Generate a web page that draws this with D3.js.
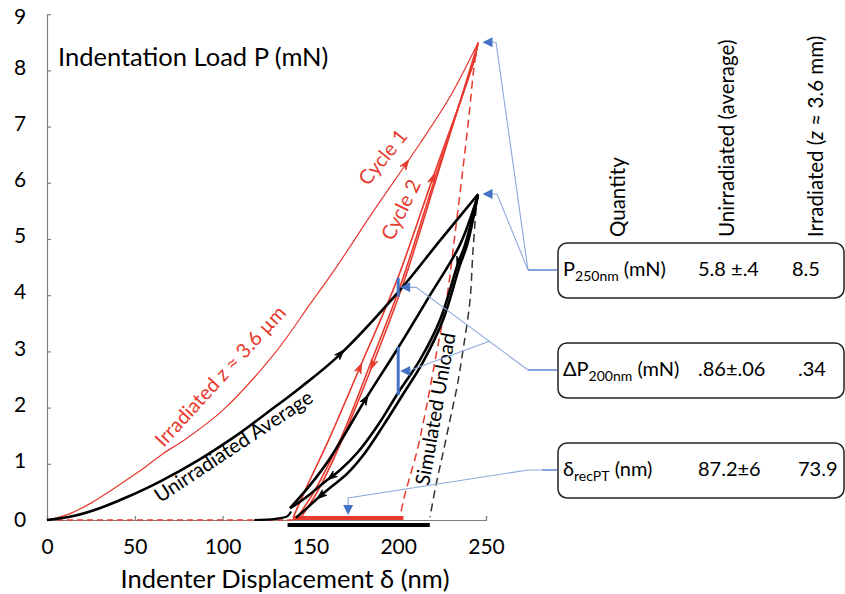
<!DOCTYPE html>
<meta charset="utf-8">
<head>
<title>Indentation load-displacement</title>
<script src="https://d3js.org/d3.v7.min.js"></script>
<style>
  body { margin: 0; background: #fff; font-family: Lato, 'Open Sans', sans-serif; }
  svg { display: block; }
  .axis path, .axis line { stroke: #808080; stroke-width: 1.2; }
  .axis text { font-size: 21px; fill: #000; font-family: Lato, sans-serif; }
  text.title { font-size: 25.5px; fill: #000; }
  text.lbl { font-size: 20px; }
  text.cell { font-size: 20px; fill: #000; }
  text.head { font-size: 20.5px; fill: #000; }
</style>
</head>
<body>
<svg width="845" height="594"></svg>
<script>
// ---- data (delta nm, P mN) ----
const irradLoad = [[0,0],[12,0.1],[25,0.3],[40,0.6],[55,0.92],[66,1.18],[78,1.42],[100,1.95],[130,2.98],[150,3.85],[165,4.51],[186,5.5],[212.4,6.7],[229.5,7.53],[245.6,8.5]];
const irradReload = [[140.3,0.05],[147.9,0.59],[161.2,1.48],[179.2,2.79],[199.1,4.25],[220,6.11],[242.8,8.13],[245.3,8.45]];
const irradUnload1 = [[245.4,8.48],[223.8,6.29],[202.9,4.21],[185.8,2.79],[168.8,1.48],[155.5,0.59],[145,0.06]];
const irradUnload2 = [[244.6,8.3],[221.9,6.17],[201,4.15],[184.3,2.79],[166.9,1.42],[152.6,0.53],[142.2,0.03]];
const irradSimUnload = [[245.6,8.5],[243.7,8.19],[240,7.1],[236.1,6.05],[232,5.0],[227.7,3.95],[222.1,3.02],[216,2.0],[210.5,1.2],[206,0.7],[203,0.35],[201,0.05]];
const irradBase = [[0,0],[141,0]];

const unirrLoad = [[0,0],[15,0.07],[30,0.21],[45,0.4],[64,0.68],[87,1.08],[110,1.55],[125,1.9],[144,2.35],[166,2.92],[201,4.09],[224,4.98],[245.6,5.8]];
const unirrTail = [[118,0],[130,0.02],[137,0.07],[139,0.15]];
const unirrUnload1 = [[245.4,5.78],[238,4.89],[234.1,4.57],[223.8,3.56],[212.4,2.85],[199.9,2.26],[188.5,1.69],[177.1,1.21],[166.9,0.89],[158.3,0.68],[149.8,0.46],[142.9,0.3],[138.4,0.21]];
const unirrReload = [[138.4,0.21],[149.8,0.62],[161.2,1.1],[182.2,2.19],[199.9,3.06],[218.1,4.0],[235.2,4.9],[245.4,5.78]];
const unirrUnload2 = [[245.4,5.78],[239.2,4.89],[235.2,4.54],[225.5,3.56],[214.1,2.81],[202.2,2.21],[191.3,1.67],[180.5,1.17],[170.8,0.82],[162.3,0.6],[154.3,0.39],[146.9,0.18],[141.8,0.04]];
const unirrSimUnload = [[245.4,5.78],[244.9,5.69],[242.6,4.8],[240.9,3.91],[236.9,3.02],[233.5,2.37],[229.5,1.78],[225.5,1.19],[221.5,0.62],[218.1,0.05]];

// recovered-displacement bars [from, to]
const recIrrad = [140, 203];
const recUnirr = [137, 218];

// peaks and dP at 200 nm
const peakIrrad = [248, 8.5];
const peakUnirr = [248, 5.8];
const dPIrrad = [200, 3.97, 4.31];
const dPUnirr = [200, 2.22, 3.08];

const xTicks = [0, 50, 100, 150, 200, 250];
const yTicks = [0, 1, 2, 3, 4, 5, 6, 7, 8, 9];

const tableHeads = ['Quantity', 'Unirradiated (average)', 'Irradiated'];
const tableRows = [
  {sym: 'P', sub: '250nm', unit: ' (mN)', unirr: '5.8 \u00b1.4', irr: '8.5'},
  {sym: '\u0394P', sub: '200nm', unit: ' (mN)', unirr: '.86\u00b1.06', irr: '.34'},
  {sym: '\u03b4', sub: 'recPT', unit: ' (nm)', unirr: '87.2\u00b16', irr: '73.9'}
];

const red = '#e8392e', blue = '#4472c4', blueLight = '#8ea9db';

const svg = d3.select('svg');
const x = d3.scaleLinear().domain([0, 250]).range([47, 486]);
const y = d3.scaleLinear().domain([0, 9]).range([520, 14.2]);

// axes
svg.append('g').attr('class', 'axis')
  .attr('transform', `translate(0,${y(0)})`)
  .call(d3.axisBottom(x).tickValues(xTicks).tickSizeInner(-4).tickSizeOuter(-4).tickPadding(19));
svg.append('g').attr('class', 'axis')
  .attr('transform', `translate(${x(0)},0)`)
  .call(d3.axisLeft(y).tickValues(yTicks).tickSizeInner(-4).tickSizeOuter(0).tickPadding(21))
  .selectAll('text').attr('text-anchor', 'middle').attr('x', -27)
  .attr('dy', (d) => d === 0 ? '0.32em' : d === 9 ? '0.42em' : '0.18em');

svg.append('text').attr('class', 'title').attr('x', 58).attr('y', 66).text('Indentation Load P (mN)');
svg.append('text').attr('class', 'title').attr('x', 285).attr('y', 588).attr('text-anchor', 'middle')
  .text('Indenter Displacement \u03b4 (nm)');

const smooth = d3.line().x((d) => x(d[0])).y((d) => y(d[1])).curve(d3.curveCatmullRom);
const line = d3.line().x((d) => x(d[0])).y((d) => y(d[1]));

function draw(data, color, width, dash, gen) {
  svg.append('path').datum(data)
    .attr('d', gen || smooth)
    .attr('fill', 'none')
    .attr('stroke', color)
    .attr('stroke-width', width)
    .attr('stroke-dasharray', dash || null)
    .attr('stroke-linejoin', 'round');
}

// baseline & bars
draw(irradBase, red, 1.5, '6,4', line);
svg.append('line').attr('x1', x(recUnirr[0])).attr('x2', x(recUnirr[1]))
  .attr('y1', y(0) + 5).attr('y2', y(0) + 5).attr('stroke', '#000').attr('stroke-width', 4);
svg.append('line').attr('x1', x(recIrrad[0])).attr('x2', x(recIrrad[1]))
  .attr('y1', y(0) - 2).attr('y2', y(0) - 2).attr('stroke', red).attr('stroke-width', 4);

// simulated unloads
draw(irradSimUnload, red, 1.5, '8,5');
draw(unirrSimUnload, '#333', 1.5, '8,5');

// irradiated
draw(irradLoad, red, 1.2);
draw(irradUnload1, red, 1.6);
draw(irradUnload2, red, 1.6);
draw(irradReload, red, 1.6);

// unirradiated
draw(unirrLoad, '#000', 2.6);
draw(unirrTail, '#000', 2.2);
draw(unirrUnload1, '#000', 2.6);
draw(unirrReload, '#000', 2.6);
draw(unirrUnload2, '#000', 2.6);

// arrowheads along curves
function arrowAt(data, d, color) {
  for (let i = 0; i < data.length - 1; i++) {
    const a = data[i], b = data[i + 1];
    const lo = Math.min(a[0], b[0]), hi = Math.max(a[0], b[0]);
    if (d >= lo && d <= hi) {
      const t = (d - a[0]) / (b[0] - a[0]);
      const px = x(d), py = y(a[1] + t * (b[1] - a[1]));
      const ang = Math.atan2(y(b[1]) - y(a[1]), x(b[0]) - x(a[0])) * 180 / Math.PI;
      svg.append('path').attr('d', 'M3,0 L-7,-3.5 L-4,0 L-7,3.5 Z')
        .attr('fill', color).attr('stroke', color).attr('stroke-width', 0.8)
        .attr('transform', `translate(${px},${py}) rotate(${ang})`);
      return;
    }
  }
}
arrowAt(unirrLoad, 168, '#000');
arrowAt(unirrReload, 182, '#000');
arrowAt(unirrUnload1, 234, '#000');
arrowAt(unirrUnload1, 161, '#000');
arrowAt(unirrUnload2, 155, '#000');
arrowAt(irradLoad, 205, red);
arrowAt(irradReload, 178.5, red);
arrowAt(irradReload, 220, red);
arrowAt(irradUnload1, 185, red);

// curve labels
const labels = [
  {t: ['Irradiated ', {i: 'z'}, ' \u2248 3.6 \u00b5m'], d: 66.5, p: 1.28, a: -47.5, c: red},
  {t: ['Unirradiated Average'], d: 64.5, p: 0.3, a: -33.5, c: '#000'},
  {t: ['Cycle 1'], d: 182.8, p: 5.93, a: -51, c: red},
  {t: ['Cycle 2'], d: 197, p: 4.95, a: -64, c: red},
  {t: ['Simulated Unload'], d: 217.5, p: 0.6, a: -80, c: '#000'}
];
labels.forEach((l) => {
  const tx = svg.append('text').attr('class', 'lbl').attr('fill', l.c)
    .attr('transform', `translate(${x(l.d)},${y(l.p)}) rotate(${l.a})`);
  l.t.forEach((s) => {
    if (typeof s === 'string') tx.append('tspan').text(s);
    else tx.append('tspan').attr('font-style', 'italic').text(s.i);
  });
});

// table boxes
const boxX = 558, boxW = 286, boxH = 55, boxTop = [243, 343, 443];
tableRows.forEach((r, i) => {
  const top = boxTop[i];
  svg.append('rect').attr('x', boxX).attr('y', top).attr('width', boxW).attr('height', boxH)
    .attr('rx', 9).attr('fill', 'none').attr('stroke', '#222').attr('stroke-width', 1.5);
  const t = svg.append('text').attr('class', 'cell').attr('x', boxX + 5).attr('y', top + 33);
  t.append('tspan').text(r.sym);
  t.append('tspan').attr('font-size', 14).attr('dy', 5).text(r.sub);
  t.append('tspan').attr('dy', -5).text(r.unit);
  svg.append('text').attr('class', 'cell').attr('x', 698).attr('y', top + 33).text(r.unirr);
  svg.append('text').attr('class', 'cell').attr('x', i === 0 ? 792 : 798).attr('y', top + 33).text(r.irr);
});

// header (rotated)
const heads = [
  {x: 625, parts: [tableHeads[0]]},
  {x: 734, parts: [tableHeads[1]]},
  {x: 823, parts: [tableHeads[2] + ' (', {i: 'z'}, ' \u2248 3.6 mm)']}
];
heads.forEach((h) => {
  const t = svg.append('text').attr('class', 'head')
    .attr('transform', `translate(${h.x},237) rotate(-90)`);
  h.parts.forEach((s) => {
    if (typeof s === 'string') t.append('tspan').text(s);
    else t.append('tspan').attr('font-style', 'italic').text(s.i);
  });
});

// blue annotation markers
function triLeft(px, py) {
  svg.append('path').attr('d', 'M0,0 L10,-5 L10,5 Z').attr('fill', blue)
    .attr('transform', `translate(${px},${py})`);
}
function connector(pts, color, w) {
  svg.append('path').attr('d', d3.line()(pts)).attr('fill', 'none')
    .attr('stroke', color).attr('stroke-width', w);
}
const elbowX = 528;
const rowMid = boxTop.map((t) => t + 27);

// peaks
[[peakIrrad, 496], [peakUnirr, 497]].forEach(([pk, kx]) => {
  const px = x(pk[0]), py = y(pk[1]);
  connector([[px + 8, py], [kx, py], [elbowX, rowMid[0]]], blueLight, 1.1);
  triLeft(px, py);
});
connector([[elbowX, rowMid[0]], [boxX, rowMid[0]]], blue, 1.3);

// dP bars
[dPIrrad, dPUnirr].forEach((b) => {
  svg.append('line').attr('x1', x(b[0])).attr('x2', x(b[0]))
    .attr('y1', y(b[1])).attr('y2', y(b[2])).attr('stroke', blue).attr('stroke-width', 3);
});
const irrMid = [x(dPIrrad[0]) + 2, y((dPIrrad[1] + dPIrrad[2]) / 2)];
const unMid = [x(dPUnirr[0]) + 2, y((dPUnirr[1] + dPUnirr[2]) / 2)];
connector([[irrMid[0] + 8, irrMid[1]], [irrMid[0] + 16, irrMid[1]], [elbowX, rowMid[1]]], blueLight, 1.1);
connector([[unMid[0] + 8, unMid[1]], [490, 341]], blueLight, 1.1);
connector([[elbowX, rowMid[1]], [boxX, rowMid[1]]], blue, 1.3);
triLeft(irrMid[0], irrMid[1]);
triLeft(unMid[0], unMid[1]);

// recovered displacement pointer
const recX = x((recIrrad[0] + recIrrad[1]) / 2);
connector([[recX, y(0) - 13], [recX, y(0) - 22], [elbowX, rowMid[2]], [boxX - 16, rowMid[2]]], blueLight, 1.1);
connector([[boxX - 16, rowMid[2]], [boxX, rowMid[2]]], blue, 1.3);
svg.append('path').attr('d', 'M0,0 L-5,-10 L5,-10 Z').attr('fill', blue)
  .attr('transform', `translate(${recX},${y(0) - 5})`);
</script>
</body>
